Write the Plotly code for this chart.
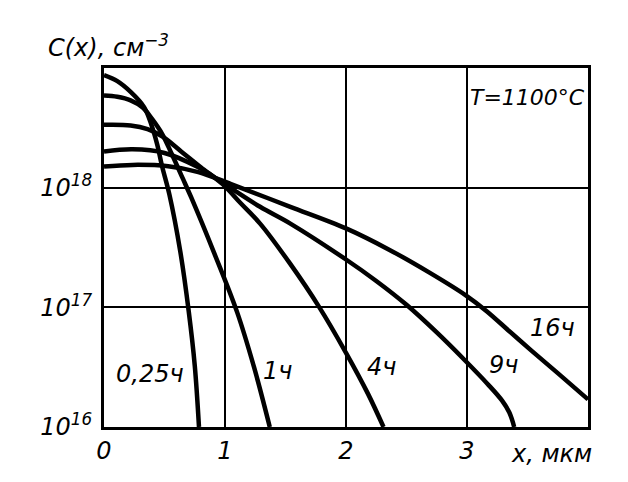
import plotly.graph_objects as go

# depth, µm ; concentration, cm^-3
x_025 = [0, 0.11, 0.22, 0.33, 0.39, 0.44, 0.48, 0.54, 0.63, 0.70, 0.75, 0.785]
c_025 = [8.71e18, 7.76e18, 6.31e18, 4.73e18, 3.39e18, 2.29e18, 1.51e18, 8.81e17, 2.95e17, 9.3e16, 3.27e16, 1.0e16]

x_1 = [0, 0.11, 0.22, 0.32, 0.40, 0.48, 0.56, 0.65, 0.72, 0.91, 1.10, 1.24, 1.37]
c_1 = [5.89e18, 5.75e18, 5.37e18, 4.68e18, 3.72e18, 2.82e18, 1.91e18, 1.20e18, 8.32e17, 2.85e17, 9.12e16, 3.16e16, 1.0e16]

x_4 = [0, 0.22, 0.36, 0.48, 0.64, 0.80, 0.98, 1.13, 1.29, 1.535, 1.78, 2.00, 2.18, 2.31]
c_4 = [3.35e18, 3.31e18, 3.09e18, 2.69e18, 2.0e18, 1.48e18, 1.07e18, 7.41e17, 5.01e17, 2.34e17, 1.0e17, 4.17e16, 1.91e16, 1.0e16]

x_9 = [0, 0.235, 0.50, 0.78, 0.98, 1.29, 1.54, 2.00, 2.25, 2.50, 2.75, 2.98, 3.17, 3.29, 3.35, 3.39]
c_9 = [2.0e18, 2.09e18, 1.95e18, 1.48e18, 1.10e18, 6.92e17, 5.01e17, 2.51e17, 1.66e17, 1.05e17, 6.17e16, 3.63e16, 2.29e16, 1.66e16, 1.32e16, 1.0e16]

x_16 = [0, 0.235, 0.53, 0.78, 1.05, 1.54, 2.00, 2.36, 2.69, 2.99, 3.16, 3.35, 3.53, 3.75, 4.0]
c_16 = [1.50e18, 1.55e18, 1.51e18, 1.35e18, 1.07e18, 6.92e17, 4.57e17, 3.02e17, 1.95e17, 1.26e17, 9.33e16, 6.31e16, 4.37e16, 2.82e16, 1.70e16]

x_ticks = [0, 1, 2, 3]
x_tick_labels = ["0", "1", "2", "3"]
y_ticks = [1e16, 1e17, 1e18]
y_tick_labels = ["10<sup>16</sup>", "10<sup>17</sup>", "10<sup>18</sup>"]

curve_labels = ["0,25ч", "1ч", "4ч", "9ч", "16ч"]
label_x = [0.38, 1.43, 2.29, 3.30, 3.71]
label_logy = [16.44, 16.47, 16.50, 16.52, 16.83]

FONT = "DejaVu Sans, sans-serif"

fig = go.Figure()
for xs, cs in [(x_025, c_025), (x_1, c_1), (x_4, c_4), (x_9, c_9), (x_16, c_16)]:
    fig.add_trace(go.Scatter(x=xs, y=cs, mode="lines",
                             line=dict(color="black", width=4.5, shape="spline", smoothing=1.0),
                             showlegend=False, hoverinfo="skip"))

for t, lx, ly in zip(curve_labels, label_x, label_logy):
    fig.add_annotation(x=lx, y=ly, xref="x", yref="y", text="<i>" + t + "</i>",
                       showarrow=False, font=dict(family=FONT, size=24, color="black"))

fig.add_annotation(x=3.5, y=18.75, xref="x", yref="y", text="<i>T=1100°C</i>",
                   showarrow=False, font=dict(family=FONT, size=22, color="black"))

fig.add_annotation(x=-0.12, y=1.012, xref="paper", yref="paper", xanchor="left", yanchor="bottom",
                   text="<i>C(x), см<sup>−3</sup></i>", showarrow=False,
                   font=dict(family=FONT, size=24, color="black"))
fig.add_annotation(x=0.925, y=-0.03, xref="paper", yref="paper", xanchor="center", yanchor="top",
                   text="<i>x, мкм</i>", showarrow=False,
                   font=dict(family=FONT, size=24, color="black"))

# page body adds an 8px margin, so the figure is 8px smaller and left/top margins compensate
fig.update_layout(
    width=620, height=474,
    margin=dict(l=96, r=40, t=60, b=55),
    paper_bgcolor="white", plot_bgcolor="white",
    font=dict(family=FONT, color="black"),
    xaxis=dict(range=[0, 4], tickvals=x_ticks, ticktext=["<i>" + t + "</i>" for t in x_tick_labels],
               showgrid=True, gridcolor="black", gridwidth=2, zeroline=False,
               showline=True, linecolor="black", linewidth=3, mirror=True,
               ticks="", tickfont=dict(family=FONT, size=24, color="black")),
    yaxis=dict(type="log", range=[16, 19], tickvals=y_ticks, ticktext=["<i>" + t + "</i>" for t in y_tick_labels],
               showgrid=True, gridcolor="black", gridwidth=2, zeroline=False,
               showline=True, linecolor="black", linewidth=3, mirror=True,
               ticks="outside", ticklen=4, tickcolor="rgba(0,0,0,0)",
               tickfont=dict(family=FONT, size=24, color="black")),
)

fig.write_html("out.html")
